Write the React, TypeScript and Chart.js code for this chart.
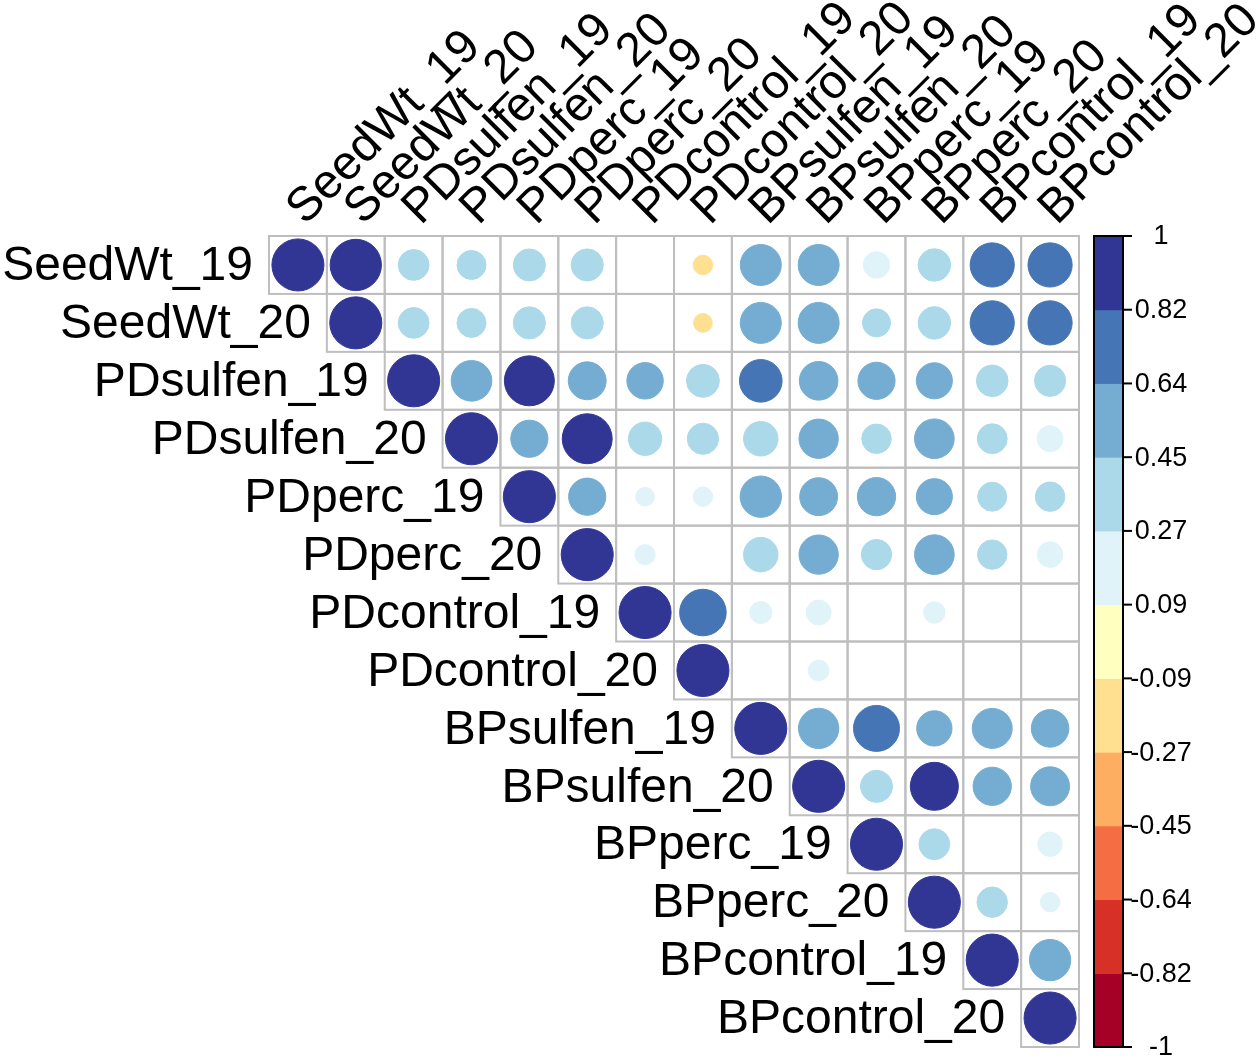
import React, { useEffect, useRef } from "react";
import { Chart, registerables } from "chart.js";

Chart.register(...registerables);

// Variable names (rows and columns)
const variables = [
  "SeedWt_19", "SeedWt_20", "PDsulfen_19", "PDsulfen_20", "PDperc_19", "PDperc_20",
  "PDcontrol_19", "PDcontrol_20", "BPsulfen_19", "BPsulfen_20", "BPperc_19", "BPperc_20",
  "BPcontrol_19", "BPcontrol_20",
];

// Upper-triangle correlations: each row starts at the diagonal. null = blank (not significant)
const corrSeedWt19 = [1, 0.97, 0.35, 0.31, 0.38, 0.38, null, -0.14, 0.62, 0.62, 0.26, 0.39, 0.72, 0.72];
const corrSeedWt20 = [1, 0.35, 0.31, 0.38, 0.38, null, -0.13, 0.62, 0.62, 0.29, 0.39, 0.72, 0.72];
const corrPDsulfen19 = [1, 0.61, 0.92, 0.53, 0.49, 0.4, 0.67, 0.55, 0.51, 0.48, 0.37, 0.36];
const corrPDsulfen20 = [1, 0.51, 0.92, 0.41, 0.36, 0.44, 0.57, 0.32, 0.58, 0.33, 0.25];
const corrPDperc19 = [1, 0.51, 0.13, 0.14, 0.63, 0.53, 0.54, 0.48, 0.31, 0.32];
const corrPDperc20 = [1, 0.15, null, 0.44, 0.57, 0.34, 0.58, 0.32, 0.24];
const corrPDcontrol19 = [1, 0.8, 0.18, 0.23, null, 0.17, null, null];
const corrPDcontrol20 = [1, null, 0.16, null, null, null, null];
const corrBPsulfen19 = [1, 0.6, 0.78, 0.46, 0.59, 0.52];
const corrBPsulfen20 = [1, 0.38, 0.85, 0.54, 0.56];
const corrBPperc19 = [1, 0.35, null, 0.22];
const corrBPperc20 = [1, 0.34, 0.14];
const corrBPcontrol19 = [1, 0.63];
const corrBPcontrol20 = [1];

const corrRows = [
  corrSeedWt19, corrSeedWt20, corrPDsulfen19, corrPDsulfen20, corrPDperc19, corrPDperc20,
  corrPDcontrol19, corrPDcontrol20, corrBPsulfen19, corrBPsulfen20, corrBPperc19, corrBPperc20,
  corrBPcontrol19, corrBPcontrol20,
];

// Colour bins from -1 (bottom) to 1 (top)
const binColors = [
  "#A50026", "#D73027", "#F46D43", "#FDAE61", "#FEE090", "#FFFFBF",
  "#E0F3F8", "#ABD9E9", "#74ADD1", "#4575B4", "#313695",
];
// Colour-bar tick labels, top to bottom
const legendTicks = ["1", "0.82", "0.64", "0.45", "0.27", "0.09", "-0.09", "-0.27", "-0.45", "-0.64", "-0.82", "-1"];

const FONT = "'Liberation Sans', Arial, Helvetica, sans-serif";

function colorFor(v: number): string {
  const idx = Math.max(0, Math.min(binColors.length - 1, Math.floor(((v + 1) / 2) * binColors.length)));
  return binColors[idx];
}

export default function App() {
  const canvasRef = useRef<HTMLCanvasElement | null>(null);

  useEffect(() => {
    document.body.style.margin = "0";
    const canvas = canvasRef.current;
    if (!canvas) return;

    const n = variables.length;
    const points: { x: number; y: number; v: number }[] = [];
    corrRows.forEach((row, i) => {
      row.forEach((v, k) => {
        if (v !== null && v !== undefined) points.push({ x: i + k, y: i, v: v as number });
      });
    });

    const cellSize = (chart: any) => {
      const xs = chart.scales.x;
      return Math.abs(xs.getPixelForValue(1) - xs.getPixelForValue(0));
    };

    const corrPlugin = {
      id: "corrDecor",
      beforeDatasetsDraw(chart: any) {
        const ctx = chart.ctx;
        const xs = chart.scales.x;
        const ys = chart.scales.y;
        ctx.save();
        ctx.strokeStyle = "#BEBEBE";
        ctx.lineWidth = 2;
        for (let i = 0; i < n; i++) {
          for (let j = i; j < n; j++) {
            const x0 = xs.getPixelForValue(j - 0.5);
            const x1 = xs.getPixelForValue(j + 0.5);
            const y0 = ys.getPixelForValue(i - 0.5);
            const y1 = ys.getPixelForValue(i + 0.5);
            ctx.strokeRect(x0, y0, x1 - x0, y1 - y0);
          }
        }
        ctx.restore();
      },
      afterDraw(chart: any) {
        const ctx = chart.ctx;
        const xs = chart.scales.x;
        const ys = chart.scales.y;
        const area = chart.chartArea;
        ctx.save();
        ctx.fillStyle = "#000";
        // Row labels
        ctx.font = `48px ${FONT}`;
        ctx.textAlign = "right";
        ctx.textBaseline = "middle";
        variables.forEach((name, i) => {
          const x = xs.getPixelForValue(i - 0.5) - 16;
          const y = ys.getPixelForValue(i) + 2;
          ctx.fillText(name, x, y);
        });
        // Column labels (rotated 45°)
        ctx.textAlign = "left";
        ctx.textBaseline = "alphabetic";
        variables.forEach((name, j) => {
          const x = xs.getPixelForValue(j) + 7;
          const y = area.top - 10;
          ctx.save();
          ctx.translate(x, y);
          ctx.rotate(-Math.PI / 4);
          ctx.fillText(name, 0, 0);
          ctx.restore();
        });
        // Colour bar
        const barL = 1094;
        const barR = 1123;
        const top = area.top;
        const bottom = area.bottom;
        const nb = binColors.length;
        const h = (bottom - top) / nb;
        binColors.forEach((c, k) => {
          const yb = bottom - k * h;
          ctx.fillStyle = c;
          ctx.fillRect(barL, yb - h, barR - barL, h + 0.5);
        });
        ctx.strokeStyle = "#000";
        ctx.lineWidth = 2;
        ctx.strokeRect(barL, top, barR - barL, bottom - top);
        ctx.fillStyle = "#000";
        ctx.font = `27px ${FONT}`;
        ctx.textAlign = "center";
        ctx.textBaseline = "middle";
        const step = (bottom - top) / (legendTicks.length - 1);
        legendTicks.forEach((t, k) => {
          const y = top + k * step;
          ctx.beginPath();
          ctx.moveTo(barR, y);
          ctx.lineTo(barR + 9, y);
          ctx.stroke();
          ctx.fillText(t, 1161, y + 1);
        });
        ctx.restore();
      },
    };

    const chart = new Chart(canvas, {
      type: "scatter",
      data: {
        datasets: [
          {
            data: points as any,
            pointStyle: "circle",
            pointRadius: (c: any) => {
              const raw = c.raw;
              if (!raw) return 0;
              return 0.45 * Math.sqrt(Math.abs(raw.v)) * cellSize(c.chart);
            },
            pointBackgroundColor: (c: any) => (c.raw ? colorFor(c.raw.v) : "#fff"),
            pointBorderColor: (c: any) => (c.raw ? colorFor(c.raw.v) : "#fff"),
            pointBorderWidth: 1,
          },
        ],
      },
      options: {
        responsive: false,
        devicePixelRatio: 1,
        animation: false,
        events: [],
        layout: { padding: { left: 269, right: 181, top: 236, bottom: 11 } },
        plugins: { legend: { display: false }, tooltip: { enabled: false } },
        scales: {
          x: { type: "linear", min: -0.5, max: n - 0.5, display: false },
          y: { type: "linear", min: -0.5, max: n - 0.5, reverse: true, display: false },
        },
      },
      plugins: [corrPlugin],
    });

    return () => chart.destroy();
  }, []);

  return (
    <div style={{ position: "absolute", left: 0, top: 0, width: 1260, height: 1058, background: "#fff" }}>
      <canvas ref={canvasRef} width={1260} height={1058} style={{ display: "block" }} />
    </div>
  );
}
